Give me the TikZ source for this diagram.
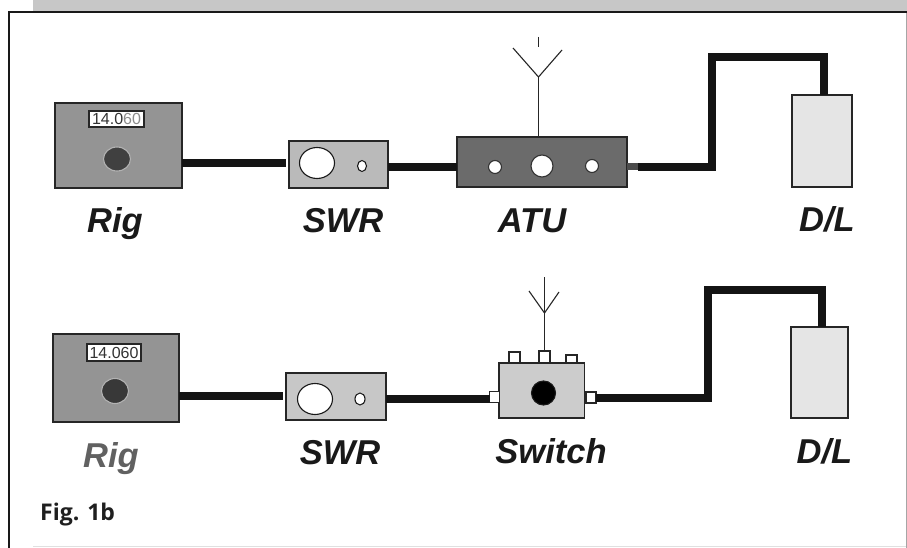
\documentclass[tikz,border=0pt]{standalone}
\usepackage{fontspec}
\usetikzlibrary{shapes.geometric}
\setmainfont{Liberation Sans}
\newfontfamily\figfont{Open Sans}
\begin{document}
\begin{tikzpicture}[x=1pt,y=-1pt,
  box/.style={draw=black!85,line width=1.1pt,inner sep=0pt,outer sep=0pt,rectangle},
  disc/.style={draw=black!90,line width=1.1pt,inner sep=0pt,outer sep=0pt,ellipse},
  wire/.style={draw=black!92,line width=8pt,line join=miter},
  stub/.style={draw=black!70,line width=7pt},
  aerial/.style={draw=black!85,line width=1.1pt},
  display/.style={box,fill=white,font=\fontsize{16}{16}\selectfont,text=black!80},
  devlabel/.style={font=\fontsize{34.5}{35}\selectfont\bfseries\itshape,text=black!90,anchor=base,inner sep=0pt},
  port/.style={box,fill=white,minimum width=10pt,minimum height=11pt}]
\useasboundingbox (0,0) rectangle (907,548);
\fill[white] (0,0) rectangle (907,548);
% page furniture
\fill[black!22] (33,0) rectangle (907,11);
\draw[black!90,line width=2pt] (8.5,548) -- (8.5,12.5) -- (907,12.5);
\draw[black!35,line width=0.8pt] (906.5,13) -- (906.5,548);
\draw[black!12,line width=1pt] (33,546) -- (906,546);
% top row
\node[box,fill=black!42,minimum width=127pt,minimum height=85pt] (rigA) at (118.5,145.5) {};
\node[display,minimum width=55pt,minimum height=16pt] (dispA) at (116.5,119) {14.0\textcolor{black!45}{60}};
\node[disc,draw=black!30,fill=black!75,minimum width=27pt,minimum height=24pt] (knobA) at (117,159) {};
\node[box,fill=black!27,minimum width=99pt,minimum height=47pt] (swrA) at (338.5,164.5) {};
\node[disc,fill=white,minimum width=35pt,minimum height=31pt] (swrAbig) at (317,163) {};
\node[disc,fill=white,minimum width=9pt,minimum height=11pt] (swrAsmall) at (362,166) {};
\node[box,fill=black!58,minimum width=170pt,minimum height=50pt] (atu) at (542,162) {};
\node[disc,draw=black!80,fill=white,minimum width=13pt,minimum height=13pt] (atuL) at (495,167) {};
\node[disc,draw=black!80,fill=white,minimum width=22pt,minimum height=22pt] (atuM) at (542,166) {};
\node[disc,draw=black!80,fill=white,minimum width=13pt,minimum height=13pt] (atuR) at (592,166) {};
\node[box,fill=black!10,minimum width=60pt,minimum height=92pt] (dlA) at (822,141) {};
\coordinate (aerialA) at (538.5,77);
\draw[aerial] (atu.north -| aerialA) -- (aerialA);
\draw[aerial] (538.5,37) -- (538.5,47);
\draw[aerial] (513,48) -- (aerialA) -- (562,50);
\draw[wire] ([yshift=1pt]rigA.east |- swrA.west) -- ([xshift=-3pt,yshift=1pt]swrA.west);
\draw[wire] ([yshift=-2.5pt]swrA.east) -- (atu.west |- 0,167);
\draw[stub] (atu.east |- 0,167) -- (638,167);
\draw[wire] (638,167) -- (712,167) -- (712,57) -- (824,57) -- (824,95);
\node[devlabel] (lblRigA) at (115,232) {Rig};
\node[devlabel] (lblSwrA) at (343,232) {SWR};
\node[devlabel] (lblAtu) at (532,232) {ATU};
\node[devlabel] (lblDlA) at (827,231) {D/L};
% bottom row
\node[box,fill=black!42,minimum width=126pt,minimum height=88pt] (rigB) at (116,378) {};
\node[display,minimum width=54pt,minimum height=17pt] (dispB) at (114,352.5) {14.060};
\node[disc,draw=black!30,fill=black!78,minimum width=27pt,minimum height=25pt] (knobB) at (115,391) {};
\node[box,fill=black!22,minimum width=100pt,minimum height=47pt] (swrB) at (336,396.5) {};
\node[disc,fill=white,minimum width=35pt,minimum height=31pt] (swrBbig) at (315,399) {};
\node[disc,fill=white,minimum width=10pt,minimum height=12pt] (swrBsmall) at (360,399) {};
\node[box,fill=black!20,minimum width=85.5pt,minimum height=55pt] (sw) at (541.75,390.5) {};
\node[disc,fill=black,minimum width=24pt,minimum height=24pt] (swKnob) at (543.5,393) {};
\node[port] (pL) at (494.5,397) {};
\node[port] (pR) at (591,397.5) {};
\node[port,minimum width=11pt,minimum height=11pt] (pT1) at (514.5,357.5) {};
\node[port,minimum width=11pt,minimum height=12pt] (pT2) at (544.5,357) {};
\node[port,minimum width=11pt,minimum height=8pt] (pT3) at (571.5,359) {};
\node[box,fill=black!10,minimum width=57pt,minimum height=91pt] (dlB) at (819.5,372.5) {};
\coordinate (aerialB) at (544.5,313);
\draw[aerial] (pT2.north) -- (544.5,277);
\draw[aerial] (529,291) -- (aerialB) -- (559,292);
\draw[wire] (rigB.east |- 0,396) -- (283,396);
\draw[wire] (swrB.east |- 0,399) -- (pL.west |- 0,399);
\draw[wire] (pR.east |- 0,398) -- (708,398) -- (708,289.5) -- (822,289.5) -- (dlB.north -| 822,0);
\node[devlabel,text=black!62] (lblRigB) at (111,467) {Rig};
\node[devlabel] (lblSwrB) at (340,464) {SWR};
\node[devlabel] (lblSw) at (551,463) {Switch};
\node[devlabel] (lblDlB) at (824.5,463) {D/L};
\node[anchor=base west,inner sep=0pt,font=\figfont\bfseries\fontsize{23}{23}\selectfont,text=black!88] (fig) at (40,520) {Fig. 1b};
\end{tikzpicture}
\end{document}
